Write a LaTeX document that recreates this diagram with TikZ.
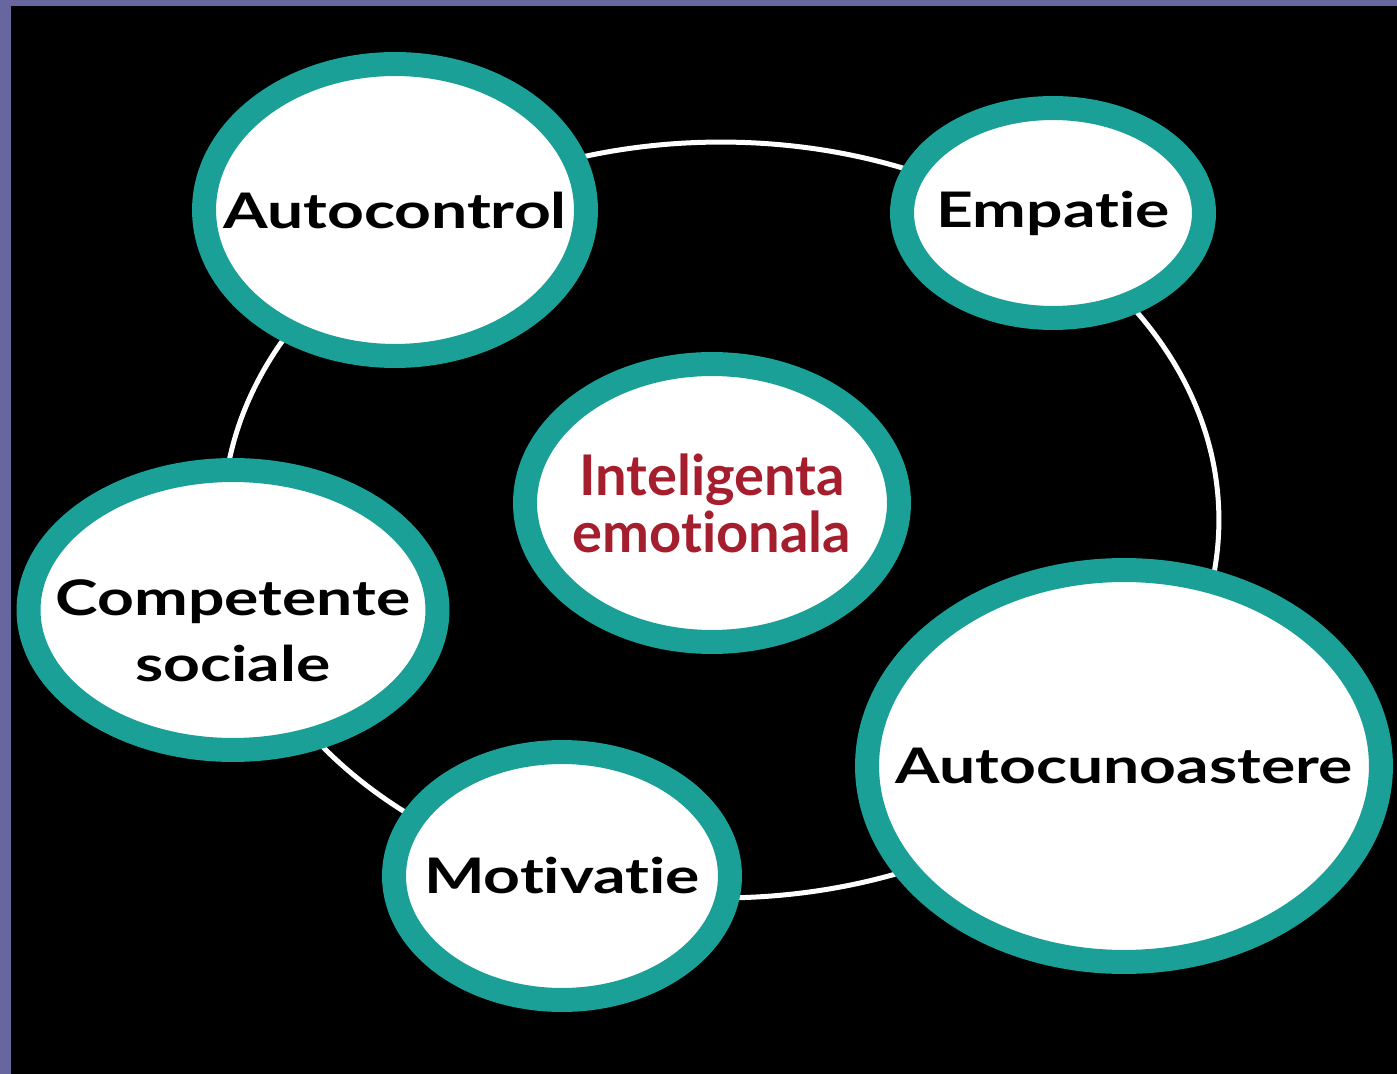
\documentclass[tikz,border=0pt]{standalone}
\usepackage{fontspec}
\setmainfont{Lato}[Ligatures={NoCommon}]
\newfontfamily\widefont{Lato}[FakeStretch=1.31, Ligatures={NoCommon}]
\usepackage{tikz}
\usetikzlibrary{shapes.geometric, positioning}
\definecolor{frameblue}{RGB}{104,102,158}
\definecolor{ringteal}{RGB}{26,160,150}
\definecolor{titlered}{RGB}{165,30,45}
\newcommand{\lowered}[1]{\raisebox{-0.5cm}[\height][\depth]{#1}}

\tikzset{
	bubble/.style={ellipse, draw=ringteal, line width=0.48cm, fill=white, inner sep=-5cm,
		font=\widefont\bfseries\fontsize{27.9}{37.7}\selectfont, text=black, align=center},
	core/.style={bubble, font=\bfseries\fontsize{31.9}{32.5}\selectfont, text=titlered}
}

\begin{document}
\begin{tikzpicture}[x=0.02cm, y=-0.02cm]
	% Frame and background
	\fill[frameblue] (0,0) rectangle (1397,1074);
	\fill[black] (11,6) rectangle (1397,1074);
	\useasboundingbox (0,0) rectangle (1397,1074);
	
	% The ring behind the bubbles
	\draw[white, line width=0.1cm] (721,520) ellipse (9.96cm and 7.56cm);
	
	% Outer bubbles
	\node[bubble, minimum width=7.64cm, minimum height=5.84cm] (autocontrol) at (395,210) {Autocontrol};
	\node[bubble, minimum width=6.04cm, minimum height=4.2cm] (empatie) at (1053,213) {Empatie};
	\node[bubble, minimum width=8.18cm, minimum height=5.6cm] (competente) at (233,610)
		{\lowered{\begin{tabular}{@{}c@{}}Competente\\sociale\end{tabular}}};
	\node[bubble, minimum width=6.72cm, minimum height=4.96cm] (motivatie) at (562,876) {Motivatie};
	\node[bubble, minimum width=10.28cm, minimum height=7.84cm] (autocunoastere) at (1124,766) {Autocunoastere};
	
	% Centre
	\node[core, minimum width=7.48cm, minimum height=5.56cm] (inteligenta) at (712,503) {Inteligenta\\emotionala};
\end{tikzpicture}
\end{document}
